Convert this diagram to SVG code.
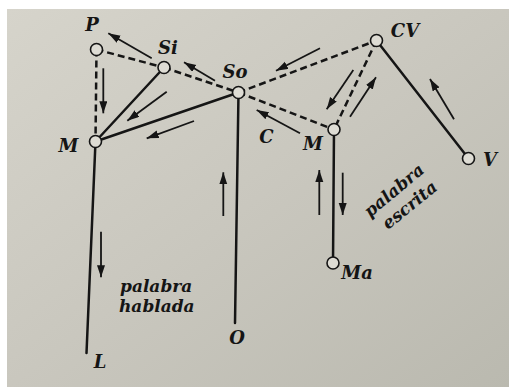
<svg xmlns="http://www.w3.org/2000/svg" width="509" height="389" viewBox="0 0 509 389">
<defs>
<linearGradient id="paper" x1="0" y1="0" x2="1" y2="1">
<stop offset="0" stop-color="#d6d4cb"/>
<stop offset="0.5" stop-color="#c9c7be"/>
<stop offset="1" stop-color="#bab9af"/>
</linearGradient>
<marker id="ah" markerUnits="userSpaceOnUse" markerWidth="13" markerHeight="10" refX="12" refY="4" orient="auto">
<path d="M0,0 L12,4 L0,8 Z" fill="#151515"/>
</marker>
</defs>
<style>
.solid{stroke:#151515;stroke-width:2.5;fill:none;stroke-linecap:round}
.dash{stroke:#151515;stroke-width:2.5;fill:none;stroke-dasharray:7 4}
.arr{stroke:#151515;stroke-width:1.8;fill:none;marker-end:url(#ah)}
.node{fill:#dedcd4;stroke:#151515;stroke-width:1.6}
.lbl{font-family:"DejaVu Serif","Liberation Serif",serif;font-weight:bold;font-style:italic;font-size:18px;fill:#151515;text-anchor:middle}
.cap{font-family:"DejaVu Serif","Liberation Serif",serif;font-weight:bold;font-style:italic;font-size:17px;fill:#151515}
</style>
<rect width="509" height="389" fill="#ffffff"/>
<rect x="7" y="9" width="502" height="378" fill="url(#paper)"/>
<g id="connectors">
<line class="dash" x1="96.5" y1="49.5" x2="164" y2="67.5"/>
<line class="dash" x1="164" y1="67.5" x2="238.5" y2="92.5"/>
<line class="dash" x1="238.5" y1="92.5" x2="376.5" y2="40.5"/>
<line class="dash" x1="238.5" y1="92.5" x2="334" y2="129.5"/>
<line class="dash" x1="376.5" y1="40.5" x2="334" y2="129.5"/>
<line class="dash" x1="96.5" y1="49.5" x2="95.5" y2="141.5"/>
<line class="solid" x1="164" y1="67.5" x2="95.5" y2="141.5"/>
<line class="solid" x1="238.5" y1="92.5" x2="95.5" y2="141.5"/>
<line class="solid" x1="238.5" y1="92.5" x2="235" y2="323"/>
<line class="solid" x1="95.5" y1="141.5" x2="86.5" y2="353"/>
<line class="solid" x1="334" y1="129.5" x2="333" y2="263"/>
<line class="solid" x1="376.5" y1="40.5" x2="468.5" y2="158.5"/>
<line class="arr" x1="151.7" y1="58.3" x2="108.3" y2="33.3"/>
<line class="arr" x1="215" y1="80.7" x2="184" y2="62.3"/>
<line class="arr" x1="103.3" y1="68.3" x2="103.3" y2="113.3"/>
<line class="arr" x1="166.7" y1="91.7" x2="127.3" y2="120.7"/>
<line class="arr" x1="194" y1="121" x2="146.7" y2="138.3"/>
<line class="arr" x1="300" y1="133.3" x2="256.7" y2="110"/>
<line class="arr" x1="320" y1="48.3" x2="276" y2="70.7"/>
<line class="arr" x1="353.3" y1="70" x2="326.7" y2="109.3"/>
<line class="arr" x1="350" y1="116.7" x2="376" y2="77.3"/>
<line class="arr" x1="454" y1="119.3" x2="430" y2="79"/>
<line class="arr" x1="223.3" y1="216" x2="223.3" y2="172.3"/>
<line class="arr" x1="319.3" y1="215" x2="319.3" y2="170"/>
<line class="arr" x1="342.7" y1="172.7" x2="342.7" y2="215"/>
<line class="arr" x1="101" y1="231.7" x2="101" y2="277.3"/>
</g>
<g id="node-P"><circle class="node" cx="96.5" cy="49.5" r="6"/><text class="lbl" x="92" y="31">P</text></g>
<g id="node-Si"><circle class="node" cx="164" cy="67.5" r="6"/><text class="lbl" x="168" y="54">Si</text></g>
<g id="node-So"><circle class="node" cx="238.5" cy="92.5" r="6"/><text class="lbl" x="235" y="78">So</text></g>
<g id="node-M-left"><circle class="node" cx="95.5" cy="141.5" r="6"/><text class="lbl" x="68.5" y="151.5">M</text></g>
<g id="node-M-right"><circle class="node" cx="334" cy="129.5" r="6"/><text class="lbl" x="313" y="150">M</text></g>
<g id="node-CV"><circle class="node" cx="376.5" cy="40.5" r="6"/><text class="lbl" x="405" y="37">CV</text></g>
<g id="node-V"><circle class="node" cx="468.5" cy="158.5" r="6"/><text class="lbl" x="490" y="166">V</text></g>
<g id="node-Ma"><circle class="node" cx="333" cy="263" r="6"/><text class="lbl" x="357" y="279">Ma</text></g>
<g id="node-O"><text class="lbl" x="237" y="344">O</text></g>
<g id="node-L"><text class="lbl" x="100" y="368">L</text></g>
<g id="node-C"><text class="lbl" x="266.5" y="143">C</text></g>
<g id="label-hablada"><text class="cap" x="120" y="292">palabra</text><text class="cap" x="119" y="312">hablada</text></g>
<g id="label-escrita"><text class="cap" transform="translate(370,218) rotate(-40)">palabra</text><text class="cap" transform="translate(388,230) rotate(-39)">escrita</text></g>
</svg>
